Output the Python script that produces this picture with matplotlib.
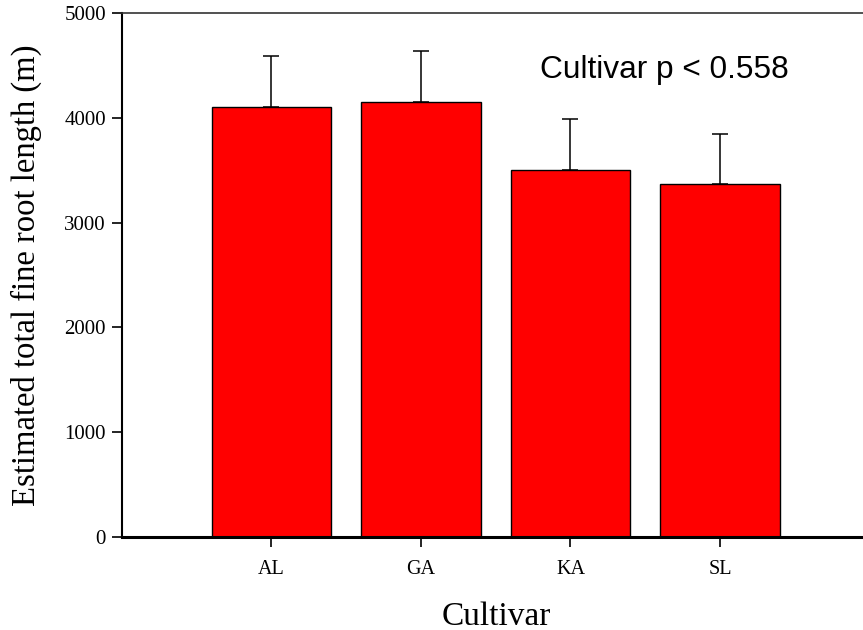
import matplotlib
matplotlib.use("Agg")
import matplotlib.pyplot as plt
import numpy as np

# Estimated total fine root length per cultivar (mean + SE)
cultivars = ["AL", "GA", "KA", "SL"]
root_length = [4100, 4155, 3500, 3365]
std_err = [485, 485, 485, 480]
stat_label = "Cultivar p < 0.558"

serif = ["Liberation Serif", "DejaVu Serif"]
sans = ["Liberation Sans", "DejaVu Sans"]

W, H = 863, 630
fig = plt.figure(figsize=(W / 100, H / 100), dpi=100)
ax_left, ax_right, ax_top, ax_bottom = 122, 863, 13, 537
ax = fig.add_axes([ax_left / W, (H - ax_bottom) / H,
                   (ax_right - ax_left) / W, (ax_bottom - ax_top) / H])

x = np.arange(1, len(cultivars) + 1)
ax.bar(x, root_length, width=0.8, color="#ff0000", edgecolor="black",
       linewidth=1.0, zorder=2)
ax.errorbar(x, root_length, yerr=[np.zeros(len(x)), std_err], fmt="none",
            ecolor="black", elinewidth=1.1, capsize=6, capthick=1.1, zorder=3)

ax.set_xlim(0, 4.957)
ax.set_ylim(0, 5000)
ax.set_xticks(x)
ax.set_xticklabels(cultivars, fontfamily=serif, fontsize=14.5)
ax.set_yticks(np.arange(0, 5001, 1000))
ax.set_yticklabels([str(v) for v in range(0, 5001, 1000)], fontfamily=serif, fontsize=15)
ax.tick_params(axis="both", direction="out", length=7, width=1.2, color="black")
ax.tick_params(axis="x", pad=9.5)
ax.tick_params(axis="y", pad=4.5)

ax.spines["right"].set_visible(False)
ax.spines["top"].set_linewidth(1.2)
ax.spines["top"].set_color("#333333")
ax.spines["left"].set_linewidth(1.5)
ax.spines["bottom"].set_linewidth(2.2)

ax.set_ylabel("Estimated total fine root length (m)", fontfamily=serif, fontsize=23.5)
ax.yaxis.label.set_verticalalignment("center")
ax.yaxis.set_label_coords((26 - ax_left) / (ax_right - ax_left), 0.5)

ax.set_xlabel("Cultivar", fontfamily=serif, fontsize=24)
ax.xaxis.label.set_verticalalignment("baseline")
ax.xaxis.set_label_coords(0.505, (ax_bottom - 625) / (ax_bottom - ax_top))

ax.text(3.625, 4455, stat_label, fontfamily=sans, fontsize=22.8,
        ha="center", va="center")

fig.savefig("out.png", dpi=100)
